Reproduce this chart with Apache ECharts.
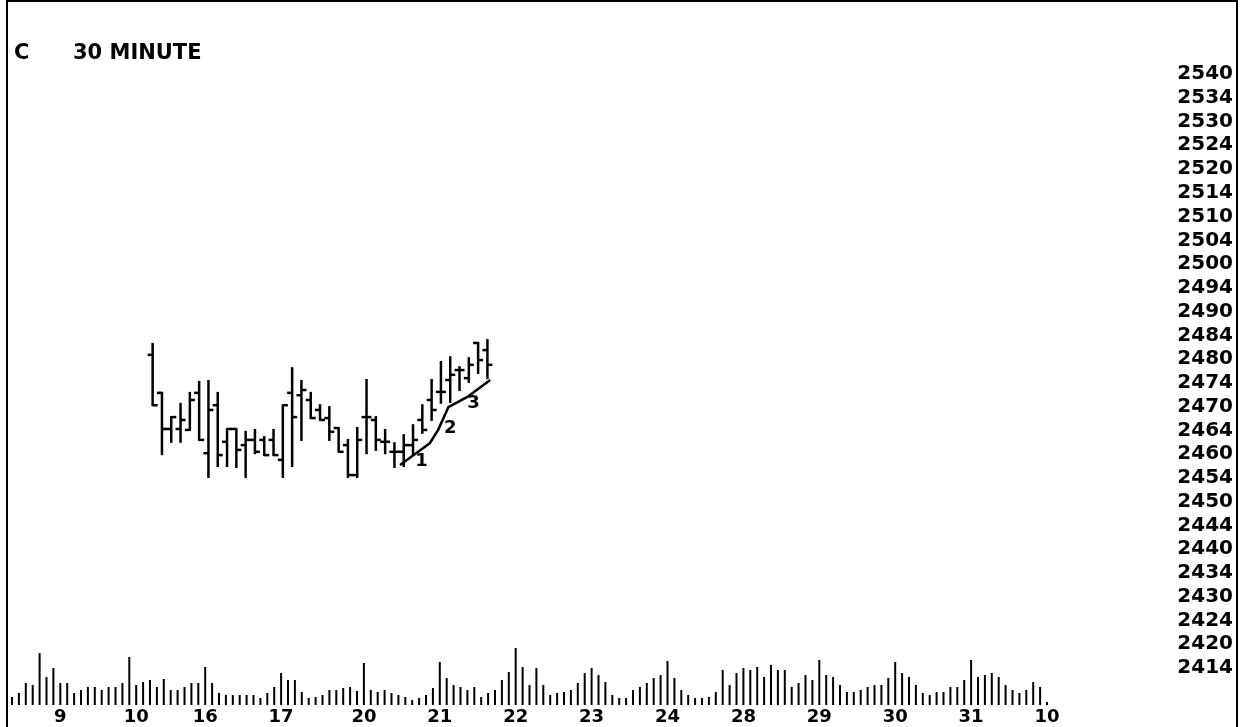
<!DOCTYPE html>
<html>
<head>
<meta charset="utf-8">
<title>C 30 MINUTE</title>
<script src="https://cdn.jsdelivr.net/npm/echarts@6/dist/echarts.min.js"></script>
<style>
    html, body { margin: 0; padding: 0; background: #fff; }
    #chart { width: 1241px; height: 727px; }
</style>
</head>
<body>
<div id="chart"></div>
<script>
// price scale labels, top to bottom (one every 5 points on the axis)
var priceLabels = ['2540', '2534', '2530', '2524', '2520', '2514', '2510', '2504', '2500',
    '2494', '2490', '2484', '2480', '2474', '2470', '2464', '2460', '2454', '2450',
    '2444', '2440', '2434', '2430', '2424', '2420', '2414']

// 30 minute bars
var open  = [2480.9, 2472.9, 2465.3, 2465.3, 2465.1, 2472.9, 2460.2, 2470.3, 2462.6, 2465.3,
    2461.9, 2463.0, 2463.0, 2463.0, 2458.8, 2472.9, 2472.4, 2471.4, 2469.3, 2467.6,
    2465.5, 2461.9, 2455.6, 2467.8, 2467.2, 2462.6, 2460.5, 2460.5, 2461.9, 2467.2,
    2471.4, 2473.1, 2475.6, 2477.7, 2476.0, 2483.4, 2481.9]
var high  = [2483.2, 2472.9, 2467.8, 2470.6, 2472.9, 2475.2, 2475.4, 2472.9, 2465.3, 2465.3,
    2464.7, 2465.1, 2463.6, 2465.1, 2470.3, 2478.1, 2475.4, 2472.9, 2470.3, 2469.9,
    2465.5, 2463.0, 2465.5, 2475.6, 2467.8, 2465.1, 2462.3, 2464.0, 2466.1, 2470.3,
    2475.6, 2479.4, 2480.4, 2478.3, 2480.2, 2483.4, 2484.0]
var low   = [2470.3, 2460.0, 2462.6, 2462.6, 2465.1, 2463.0, 2455.2, 2457.5, 2457.5, 2457.3,
    2455.2, 2460.2, 2459.8, 2459.8, 2455.2, 2457.5, 2463.0, 2467.6, 2467.2, 2463.0,
    2460.5, 2455.2, 2455.2, 2460.2, 2460.9, 2460.2, 2457.3, 2457.5, 2459.8, 2464.5,
    2467.2, 2470.8, 2471.0, 2473.5, 2475.2, 2477.1, 2476.0]
var close = [2470.3, 2465.3, 2467.8, 2467.2, 2471.4, 2463.0, 2469.3, 2459.8, 2465.3, 2460.9,
    2463.0, 2460.5, 2459.8, 2459.8, 2470.3, 2467.8, 2473.5, 2467.6, 2467.2, 2464.7,
    2460.5, 2455.6, 2463.0, 2467.8, 2463.0, 2462.6, 2460.5, 2461.9, 2463.0, 2465.1,
    2469.3, 2473.1, 2476.7, 2477.7, 2478.8, 2479.8, 2478.8]

// hand drawn trend line and wave counts (bar number, price)
var trendBar   = [26.6, 29.8, 30.7, 31.8, 33.8, 36.3]
var trendPrice = [2457.7, 2462.3, 2465.1, 2469.9, 2472.0, 2475.6]
var waveNames  = ['1', '2', '3']
var waveBar    = [28.9, 32.0, 34.5]
var wavePrice  = [2458.4, 2465.4, 2470.7]

// volume histogram
var volume = [8, 12, 22, 20, 52, 28, 37, 22, 22, 12,
    15, 18, 18, 15, 18, 18, 22, 48, 20, 23,
    25, 18, 26, 15, 15, 18, 22, 22, 38, 22,
    12, 10, 10, 10, 10, 10, 7, 12, 18, 32,
    25, 25, 13, 7, 8, 10, 15, 15, 17, 18,
    14, 42, 15, 13, 15, 12, 10, 8, 5, 7,
    10, 17, 43, 27, 20, 18, 15, 18, 8, 12,
    15, 25, 33, 57, 38, 20, 37, 20, 10, 12,
    13, 15, 22, 32, 37, 30, 23, 10, 7, 7,
    15, 18, 22, 27, 30, 44, 27, 15, 10, 7,
    7, 8, 13, 35, 20, 32, 37, 35, 38, 28,
    40, 35, 35, 18, 22, 30, 25, 45, 30, 28,
    20, 13, 13, 15, 18, 20, 20, 27, 43, 32,
    28, 20, 12, 10, 13, 13, 18, 18, 25, 45,
    28, 30, 32, 28, 20, 15, 12, 15, 23, 18, 3]
var dateLabels = ['9', '10', '16', '17', '20', '21', '22', '23', '24', '28', '29', '30', '31', '10']
var dateIndex  = [7, 18, 28, 39, 51, 62, 73, 84, 95, 106, 117, 128, 139, 150]

var volCats = volume.map(function () { return '' })
dateIndex.forEach(function (idx, k) { volCats[idx] = dateLabels[k] })

var ohlc = open.map(function (o, i) { return [i, o, high[i], low[i], close[i]] })
var trend = trendBar.map(function (b, i) { return [b, trendPrice[i]] })
var waves = waveBar.map(function (b, i) { return { name: waveNames[i], value: [b, wavePrice[i]] } })

var labelFont = {
    color: '#000',
    fontFamily: 'DejaVu Sans',
    fontWeight: 'bold'
}

var chart = echarts.init(document.getElementById('chart'))

chart.setOption({
    animation: false,
    backgroundColor: '#fff',
    title: [
        { text: 'C', left: 9, top: 38, textStyle: Object.assign({ fontSize: 21 }, labelFont) },
        { text: '30 MINUTE', left: 68, top: 38, textStyle: Object.assign({ fontSize: 21 }, labelFont) }
    ],
    grid: [
        { left: 6, right: 5, top: 74, bottom: 59 },
        { left: 8.55, right: 190.55, top: 645, bottom: 22 }
    ],
    xAxis: [
        { type: 'value', gridIndex: 0, min: -15.77, max: 116.5, show: false },
        {
            type: 'category',
            gridIndex: 1,
            data: volCats,
            axisLine: { show: false },
            axisTick: { show: false },
            axisLabel: Object.assign({ interval: 0, fontSize: 18, margin: 3 }, labelFont)
        }
    ],
    yAxis: [
        {
            type: 'value',
            gridIndex: 0,
            position: 'right',
            min: 2415,
            max: 2540,
            interval: 5,
            splitLine: { show: false },
            axisLine: { show: false },
            axisTick: { show: false },
            axisLabel: Object.assign({
                inside: true,
                margin: 3,
                fontSize: 20,
                formatter: function (v) {
                    return priceLabels[Math.round((2540 - v) / 5)]
                }
            }, labelFont)
        },
        { type: 'value', gridIndex: 1, min: 0, max: 60, show: false }
    ],
    series: [
        {
            type: 'custom',
            xAxisIndex: 0,
            yAxisIndex: 0,
            data: ohlc,
            encode: { x: 0, y: [1, 2, 3, 4] },
            renderItem: function (params, api) {
                var x = api.value(0)
                var o = api.coord([x, api.value(1)])
                var h = api.coord([x, api.value(2)])
                var l = api.coord([x, api.value(3)])
                var c = api.coord([x, api.value(4)])
                var style = { stroke: '#000', lineWidth: 2.5 }
                return {
                    type: 'group',
                    children: [
                        { type: 'line', shape: { x1: h[0], y1: h[1] - 1, x2: l[0], y2: l[1] + 1 }, style: style },
                        { type: 'line', shape: { x1: o[0] - 5, y1: o[1], x2: o[0], y2: o[1] }, style: style },
                        { type: 'line', shape: { x1: c[0], y1: c[1], x2: c[0] + 5, y2: c[1] }, style: style }
                    ]
                }
            }
        },
        {
            type: 'line',
            xAxisIndex: 0,
            yAxisIndex: 0,
            data: trend,
            symbol: 'none',
            lineStyle: { color: '#000', width: 2.5 }
        },
        {
            type: 'scatter',
            xAxisIndex: 0,
            yAxisIndex: 0,
            data: waves,
            symbolSize: 0,
            itemStyle: { opacity: 1 },
            label: Object.assign({
                show: true,
                position: 'inside',
                fontSize: 18,
                textBorderWidth: 0,
                formatter: '{b}'
            }, labelFont)
        },
        {
            type: 'bar',
            xAxisIndex: 1,
            yAxisIndex: 1,
            data: volume,
            barWidth: 2,
            itemStyle: { color: '#000' }
        }
    ],
    graphic: [
        {
            type: 'rect',
            shape: { x: 7, y: 1, width: 1230, height: 732 },
            style: { fill: 'none', stroke: '#000', lineWidth: 2 },
            silent: true
        }
    ]
})
</script>
</body>
</html>
